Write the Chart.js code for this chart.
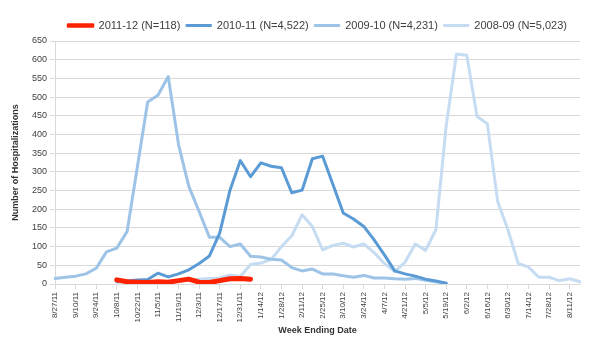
<!DOCTYPE html>
<html>
<head>
<meta charset="utf-8">
<script src="https://cdn.jsdelivr.net/npm/chart.js@4/dist/chart.umd.min.js"></script>
<style>
html,body{margin:0;padding:0;background:#fff;}
#wrap{width:600px;height:350px;position:relative;}
</style>
</head>
<body>
<div id="wrap"><canvas id="c"></canvas></div>
<script>
const weeks = ["8/27/11","9/3/11","9/10/11","9/17/11","9/24/11","10/1/11","10/8/11","10/15/11","10/22/11","10/29/11",
  "11/5/11","11/12/11","11/19/11","11/26/11","12/3/11","12/10/11","12/17/11","12/24/11","12/31/11","1/7/12",
  "1/14/12","1/21/12","1/28/12","2/4/12","2/11/12","2/18/12","2/25/12","3/3/12","3/10/12","3/17/12",
  "3/24/12","3/31/12","4/7/12","4/14/12","4/21/12","4/28/12","5/5/12","5/12/12","5/19/12","5/26/12",
  "6/2/12","6/9/12","6/16/12","6/23/12","6/30/12","7/7/12","7/14/12","7/21/12","7/28/12","8/4/12",
  "8/11/12","8/18/12"];

const seriesNames = ["2011-12 (N=118)","2010-11 (N=4,522)","2009-10 (N=4,231)","2008-09 (N=5,023)"];

const s2011_12 = [null,null,null,null,null,null,
  11,6,5,4,6,5,9,13,5,4,9,14,15,13,
  null,null,null,null,null,null,null,null,null,null,null,null,null,null,null,null,
  null,null,null,null,null,null,null,null,null,null,null,null,null,null,null,null];

const s2010_11 = [null,null,null,null,null,null,
  6,8,11,12,29,19,27,38,55,75,136,251,330,287,
  324,315,311,244,251,335,342,266,190,174,154,118,78,35,27,21,
  13,8,2,
  null,null,null,null,null,null,null,null,null,null,null,null,null];

const s2009_10 = [15,18,21,27,42,86,96,140,313,487,
  505,555,373,261,194,125,125,100,107,74,
  72,66,64,44,35,40,27,27,22,18,
  23,16,16,14,13,15,10,6,2,
  null,null,null,null,null,null,null,null,null,null,null,null,null];

const s2008_09 = [null,null,null,null,null,null,
  6,5,5,6,7,1,8,11,13,15,
  16,24,20,52,56,66,100,129,185,154,
  91,103,109,99,107,84,55,33,58,107,
  90,145,423,615,612,448,429,221,145,55,
  45,18,18,9,14,6];

const yTicks = {min: 0, max: 650, step: 50};

const colors = ["#FF2200","#5B9BD5","#9DC3E6","#C6DCF2"];
const widths = [5,3,3,3];
const seriesData = [s2011_12, s2010_11, s2009_10, s2008_09];

const FONT = "'Liberation Sans', Arial, sans-serif";

new Chart(document.getElementById('c'), {
  type: 'line',
  data: {
    labels: weeks,
    datasets: seriesData.map((d, i) => ({
      label: seriesNames[i],
      data: d,
      borderColor: colors[i],
      backgroundColor: colors[i],
      borderWidth: widths[i],
      pointRadius: 0,
      pointHoverRadius: 0,
      tension: 0,
      fill: false,
      spanGaps: false,
      borderJoinStyle: 'round',
      borderCapStyle: 'round'
    }))
  },
  options: {
    responsive: true,
    maintainAspectRatio: false,
    animation: false,
    devicePixelRatio: 1,
    layout: {padding: {top: 14, right: 20, bottom: 0, left: 0}},
    plugins: {
      tooltip: {enabled: false},
      legend: {
        position: 'top',
        fullSize: false,
        maxHeight: 28,
        labels: {
          boxWidth: 25,
          boxHeight: 2,
          padding: 6,
          color: '#404040',
          font: {family: FONT, size: 11},
          generateLabels(chart) {
            const items = Chart.defaults.plugins.legend.labels.generateLabels(chart);
            items.forEach((it, i) => {
              it.lineWidth = i === 0 ? 2.5 : 1;
              it.fillStyle = colors[i];
              it.strokeStyle = colors[i];
            });
            return items;
          }
        }
      }
    },
    scales: {
      x: {
        type: 'category',
        offset: false,
        afterFit(scale) { scale.height = 66; },
        grid: {
          drawOnChartArea: false,
          drawTicks: true,
          tickLength: 5,
          tickColor: (ctx) => (ctx.index % 2 === 0 ? '#D9D9D9' : 'rgba(0,0,0,0)')
        },
        border: {display: true, color: '#D9D9D9'},
        ticks: {
          autoSkip: false,
          maxRotation: 90,
          minRotation: 90,
          padding: 3,
          color: '#404040',
          font: {family: FONT, size: 8},
          callback: (v, i) => (i % 2 === 0 ? weeks[i] : '')
        },
        title: {
          display: true,
          text: 'Week Ending Date',
          color: '#333333',
          font: {family: FONT, size: 9, weight: 'bold'},
          padding: {top: 4, bottom: 14}
        }
      },
      y: {
        min: yTicks.min,
        max: yTicks.max,
        afterFit(scale) { scale.width = 55; },
        grid: {color: '#D9D9D9', tickLength: 5, drawTicks: true},
        border: {display: true, color: '#D9D9D9'},
        ticks: {
          stepSize: yTicks.step,
          padding: 3,
          color: '#404040',
          font: {family: FONT, size: 9}
        },
        title: {
          display: true,
          text: 'Number of Hospitalizations',
          color: '#333333',
          font: {family: FONT, size: 9, weight: 'bold'},
          padding: {top: 10, bottom: 4}
        }
      }
    }
  }
});
</script>
</body>
</html>
